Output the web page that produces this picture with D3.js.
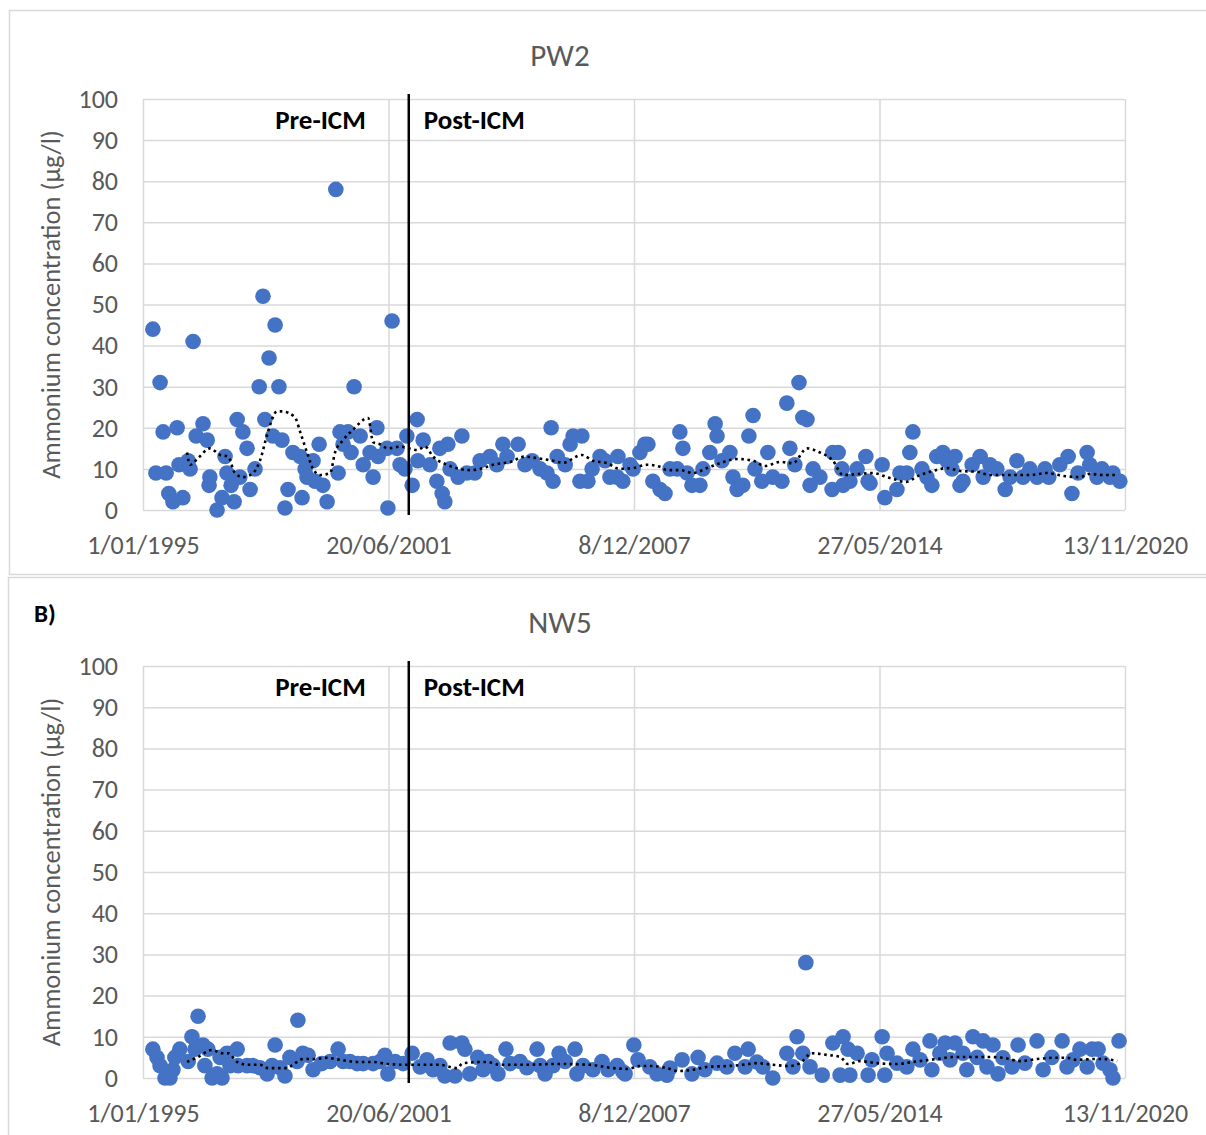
<!DOCTYPE html>
<html>
<head>
<meta charset="utf-8">
<script src="https://cdn.jsdelivr.net/npm/d3@7"></script>
<style>
  body { margin: 0; background: #fff; }
  svg { display: block; font-family: Calibri, Carlito, Lato, "Open Sans", sans-serif; }
</style>
</head>
<body>
<svg id="chart" width="1206" height="1135"></svg>
<script>
// x axis ticks (Excel date axis)
var xTickDates = ["1995-01-01", "2001-06-20", "2007-12-08", "2014-05-27", "2020-11-13"];
var xTickLabels = ["1/01/1995", "20/06/2001", "8/12/2007", "27/05/2014", "13/11/2020"];
var yTicks = [0, 10, 20, 30, 40, 50, 60, 70, 80, 90, 100];
var icmDate = "2002-01-01";

// PW2 samples: time in decimal years, ammonium in µg/l
var pw2Years = [1995.26, 1995.34, 1995.45, 1995.53, 1995.61, 1995.68, 1995.79, 1995.90, 1995.95, 1996.05,
  1996.19, 1996.24, 1996.32, 1996.40, 1996.58, 1996.69, 1996.74, 1996.76, 1996.95, 1997.08,
  1997.16, 1997.21, 1997.32, 1997.40, 1997.48, 1997.55, 1997.63, 1997.74, 1997.82, 1997.95,
  1998.06, 1998.16, 1998.21, 1998.32, 1998.42, 1998.48, 1998.58, 1998.66, 1998.74, 1998.82,
  1998.95, 1999.14, 1999.19, 1999.27, 1999.32, 1999.48, 1999.53, 1999.64, 1999.74, 1999.85,
  2000.08, 2000.14, 2000.19, 2000.27, 2000.40, 2000.48, 2000.56, 2000.72, 2000.80, 2000.98,
  2001.06, 2001.16, 2001.19, 2001.43, 2001.45, 2001.56, 2001.69, 2001.77, 2001.90, 2001.95,
  2002.09, 2002.22, 2002.24, 2002.38, 2002.56, 2002.74, 2002.82, 2002.88, 2002.95, 2003.03,
  2003.09, 2003.30, 2003.40, 2003.53, 2003.74, 2003.88, 2004.14, 2004.32, 2004.48, 2004.59,
  2004.88, 2005.06, 2005.25, 2005.46, 2005.64, 2005.75, 2005.80, 2005.91, 2006.12, 2006.25,
  2006.33, 2006.51, 2006.56, 2006.72, 2006.83, 2007.04, 2007.17, 2007.30, 2007.49, 2007.51,
  2007.64, 2007.83, 2007.91, 2008.09, 2008.22, 2008.30, 2008.43, 2008.62, 2008.75, 2008.88,
  2009.07, 2009.14, 2009.22, 2009.33, 2009.46, 2009.67, 2009.75, 2009.93, 2010.07, 2010.12,
  2010.25, 2010.46, 2010.54, 2010.65, 2010.80, 2010.96, 2011.07, 2011.12, 2011.30, 2011.46,
  2011.59, 2011.83, 2011.96, 2012.04, 2012.17, 2012.28, 2012.38, 2012.49, 2012.57, 2012.65,
  2012.83, 2013.15, 2013.17, 2013.31, 2013.41, 2013.44, 2013.62, 2013.81, 2014.04, 2014.10,
  2014.15, 2014.47, 2014.54, 2014.86, 2014.94, 2015.12, 2015.20, 2015.28, 2015.52, 2015.65,
  2015.78, 2015.91, 2016.07, 2016.18, 2016.31, 2016.39, 2016.52, 2016.60, 2016.84, 2017.05,
  2017.13, 2017.31, 2017.49, 2017.71, 2017.84, 2018.02, 2018.18, 2018.36, 2018.55, 2018.76,
  2018.86, 2019.15, 2019.37, 2019.47, 2019.63, 2019.87, 2019.94, 2020.13, 2020.26, 2020.47,
  2020.55, 2020.73];
var pw2Values = [44, 9, 31, 19, 9, 4, 2, 20, 11, 3,
  12, 10, 41, 18, 21, 17, 6, 8, 0, 3,
  13, 9, 6, 2, 22, 8, 19, 15, 5, 10,
  30, 52, 22, 37, 18, 45, 30, 17, 0.5, 5,
  14, 13, 3, 10, 8, 12, 7, 16, 6, 2,
  78, 9, 19, 16, 19, 14, 30, 18, 11, 14,
  8, 20, 13, 15, 0.5, 46, 15, 11, 10, 18,
  6, 22, 12, 17, 11, 7, 15, 4, 2, 16,
  10, 8, 18, 9, 9, 12, 13, 11, 16, 13,
  16, 11, 12, 10, 9, 20, 7, 13, 11, 16,
  18, 7, 18, 7, 10, 13, 12, 8, 8, 13,
  7, 11, 10, 14, 16, 16, 7, 5, 4, 10,
  10, 19, 15, 9, 6, 6, 10, 14, 21, 18,
  12, 14, 8, 5, 6, 18, 23, 10, 7, 14,
  8, 7, 26, 15, 11, 31, 22.5, 22, 6, 10,
  8, 5, 14, 14, 10, 6, 7, 10, 13, 7,
  6.5, 11, 3, 5, 9, 9, 14, 19, 10, 8,
  6, 13, 14, 12, 10, 13, 6, 7, 11, 13,
  8, 11, 10, 5, 8, 12, 8, 10, 8, 10,
  8, 11, 13, 4, 9, 14, 11, 8, 10, 8,
  9, 7];
// PW2 moving-average trendline as drawn
var pw2TrendYears = [1996.16, 1996.24, 1996.45, 1996.76, 1997.03, 1997.24, 1997.42, 1997.63, 1997.90, 1998.08,
  1998.29, 1998.53, 1998.66, 1999.00, 1999.14, 1999.32, 1999.48, 1999.66, 1999.93, 2000.06,
  2000.27, 2000.53, 2000.93, 2001.06, 2001.24, 2001.45, 2001.77, 2002.22, 2002.43, 2002.64,
  2003.01, 2003.61, 2003.88, 2004.22, 2004.67, 2005.06, 2005.38, 2005.80, 2006.06, 2006.56,
  2006.85, 2007.22, 2007.56, 2007.91, 2008.28, 2008.62, 2008.80, 2009.14, 2009.49, 2009.86,
  2010.20, 2010.65, 2011.07, 2011.38, 2011.78, 2012.12, 2012.49, 2012.83, 2013.17, 2013.44,
  2013.89, 2014.23, 2014.60, 2014.86, 2015.07, 2015.47, 2015.81, 2016.18, 2016.52, 2016.97,
  2017.31, 2017.92, 2018.36, 2018.81, 2019.23, 2019.68, 2019.94, 2020.29, 2020.66];
var pw2TrendValues = [14, 11, 12.6, 15, 13.4, 13, 9, 8, 9, 12,
  19, 24, 24, 22.6, 19, 14, 10, 8.5, 9, 14,
  17, 19.5, 22.4, 16.5, 16, 15, 15.4, 14.6, 15.4, 13,
  11, 9.7, 10, 11, 11.7, 13, 12.6, 12, 11.5, 13.4,
  12, 11.4, 10, 10.2, 11, 10.5, 9.7, 9.7, 9, 10.2,
  11.4, 12.4, 12, 10.7, 11.7, 11.4, 15, 14, 12, 8.5,
  8.8, 9, 8, 7.3, 6.8, 8.5, 9.5, 10.2, 9.5, 9.3,
  8.5, 8.5, 8.5, 9, 8.3, 8, 8.8, 8.5, 8.5];

// NW5 samples
var nw5Years = [1995.26, 1995.37, 1995.45, 1995.58, 1995.71, 1995.79, 1995.84, 1995.97, 1996.19, 1996.29,
  1996.37, 1996.45, 1996.58, 1996.63, 1996.71, 1996.82, 1996.95, 1997.03, 1997.08, 1997.21,
  1997.29, 1997.48, 1997.50, 1997.74, 1997.90, 1998.08, 1998.27, 1998.40, 1998.48, 1998.61,
  1998.74, 1998.87, 1999.06, 1999.08, 1999.21, 1999.35, 1999.48, 1999.71, 1999.93, 2000.14,
  2000.27, 2000.45, 2000.64, 2000.80, 2001.06, 2001.24, 2001.37, 2001.45, 2001.64, 2001.85,
  2002.09, 2002.30, 2002.48, 2002.64, 2002.82, 2002.95, 2003.09, 2003.22, 2003.40, 2003.48,
  2003.61, 2003.82, 2003.96, 2004.09, 2004.22, 2004.35, 2004.56, 2004.67, 2004.93, 2005.11,
  2005.38, 2005.46, 2005.59, 2005.80, 2005.96, 2006.12, 2006.38, 2006.43, 2006.59, 2006.85,
  2007.09, 2007.25, 2007.49, 2007.64, 2007.70, 2007.93, 2008.04, 2008.35, 2008.54, 2008.80,
  2008.88, 2009.20, 2009.46, 2009.62, 2009.80, 2010.12, 2010.38, 2010.59, 2010.86, 2010.94,
  2011.17, 2011.33, 2011.59, 2011.96, 2012.12, 2012.23, 2012.38, 2012.46, 2012.57, 2012.89,
  2013.17, 2013.36, 2013.44, 2013.57, 2013.62, 2013.81, 2014.10, 2014.20, 2014.47, 2014.54,
  2014.60, 2014.86, 2015.12, 2015.28, 2015.47, 2015.73, 2015.78, 2015.99, 2016.13, 2016.26,
  2016.39, 2016.60, 2016.70, 2016.86, 2016.97, 2017.13, 2017.23, 2017.39, 2017.52, 2017.65,
  2017.89, 2018.05, 2018.23, 2018.55, 2018.71, 2018.94, 2019.21, 2019.34, 2019.50, 2019.68,
  2019.87, 2020.00, 2020.16, 2020.29, 2020.47, 2020.55, 2020.71];
var nw5Values = [7, 5, 3, 0, 0, 2, 5, 7, 4, 10,
  7, 15, 8, 3, 7, 0, 1, 5, 0, 6,
  3, 7, 3, 3, 3, 2.5, 1, 3, 8, 2.5,
  0.5, 5, 4, 14, 6, 5.5, 2, 3.5, 4, 7,
  4, 4, 3.5, 3.5, 3.5, 4, 5.5, 1, 4, 3.5,
  6, 2.7, 4.4, 2, 3, 0.5, 8.5, 0.5, 8.5, 7,
  1, 5, 2, 4, 3, 1, 7, 3.5, 4, 2.5,
  7, 3, 1, 3, 6, 4, 7, 1, 3, 2,
  4, 2, 3, 1.5, 1, 8, 4.4, 2.7, 1, 0.7,
  2.4, 4.4, 1, 5, 2, 3.6, 2.7, 6, 2.7, 7,
  3.9, 2.7, 0, 6, 2.7, 10, 6, 28, 2.7, 0.7,
  8.5, 0.7, 10, 7, 0.7, 6, 0.7, 4.4, 10, 0.7,
  6, 3.6, 2.7, 7, 4.4, 9, 2, 6, 8.5, 4.4,
  8.5, 6, 2, 10, 5, 9, 2.7, 8, 1, 4.9,
  2.7, 8, 3.6, 9, 2, 5, 9, 2.7, 4.4, 7,
  2.7, 7, 7, 3.6, 2, 0, 9];
var nw5TrendYears = [1996.16, 1996.45, 1996.82, 1997.08, 1997.24, 1997.48, 1997.77, 1998.08, 1998.29, 1998.61,
  1998.79, 1998.95, 1999.21, 1999.48, 1999.85, 2000.19, 2000.64, 2001.06, 2001.43, 2001.95,
  2002.30, 2002.82, 2003.27, 2003.43, 2004.06, 2004.40, 2005.01, 2005.91, 2006.77, 2007.38,
  2007.75, 2008.09, 2008.43, 2008.80, 2009.09, 2009.49, 2009.86, 2010.38, 2010.80, 2011.17,
  2011.59, 2012.04, 2012.31, 2012.62, 2013.02, 2013.36, 2013.57, 2013.89, 2014.33, 2014.86,
  2015.28, 2015.91, 2016.34, 2016.78, 2017.23, 2017.65, 2018.10, 2018.55, 2018.97, 2019.34,
  2019.60, 2020.02, 2020.29, 2020.66];
var nw5TrendValues = [3.9, 5.1, 6.8, 6, 6, 3.9, 3.2, 3.2, 2.4, 2.4,
  2.4, 3.2, 4.6, 4.6, 4.9, 4.4, 3.9, 3.9, 3.4, 3.2,
  3.2, 3.2, 2.4, 3.6, 3.9, 3.2, 3.2, 3.4, 3.2, 2.4,
  2.2, 2.9, 2.9, 2.4, 1.7, 2, 2.7, 2.9, 3.2, 3.6,
  3.2, 2.9, 3.6, 6, 5.6, 5.1, 3.4, 4.1, 3.6, 3.4,
  3.9, 4.6, 5.1, 5.1, 5.1, 4.9, 4.1, 4.6, 4.9, 4.9,
  4.4, 4.6, 4.6, 4.1];

var gridColor = "#d9d9d9";
var textColor = "#595959";
var dotColor = "#4472c4";
var font = "Calibri, Carlito, Lato, 'Open Sans', sans-serif";

function yearToDate(t) {
  var y = Math.floor(t);
  var a = Date.UTC(y, 0, 1), b = Date.UTC(y + 1, 0, 1);
  return new Date(a + (t - y) * (b - a));
}

var svg = d3.select("#chart");

// outer chart frames
svg.append("rect").attr("x", 9.5).attr("y", 10.5).attr("width", 1205).attr("height", 564)
  .attr("fill", "#fff").attr("stroke", gridColor).attr("stroke-width", 1.5);
svg.append("rect").attr("x", 8.5).attr("y", 577.5).attr("width", 1205).attr("height", 600)
  .attr("fill", "#fff").attr("stroke", gridColor).attr("stroke-width", 1.5);

svg.append("text").attr("x", 34).attr("y", 622).attr("font-size", 25).attr("font-weight", "bold")
  .attr("fill", "#000").text("B)");

function drawPanel(opt) {
  var x = d3.scaleUtc()
    .domain([new Date(xTickDates[0]), new Date(xTickDates[xTickDates.length - 1])])
    .range([143, 1125]);
  var y = d3.scaleLinear().domain([0, 100]).range([opt.bottom, opt.top]);
  var g = svg.append("g");

  // horizontal gridlines + y labels
  var yAxis = d3.axisLeft(y).tickValues(yTicks).tickSize(-(1125 - 143)).tickPadding(25);
  var gy = g.append("g").attr("transform", "translate(143,0)").call(yAxis);
  gy.select(".domain").remove();
  gy.selectAll(".tick line").attr("stroke", gridColor).attr("stroke-width", 1.5);
  gy.selectAll(".tick text").attr("fill", textColor).attr("font-size", 26).attr("font-family", font);

  // vertical gridlines + date labels
  var xAxis = d3.axisBottom(x).tickValues(xTickDates.map(function (d) { return new Date(d); }))
    .tickFormat(function (d, i) { return xTickLabels[i]; })
    .tickSize(-(opt.bottom - opt.top)).tickPadding(26);
  var gx = g.append("g").attr("transform", "translate(0," + opt.bottom + ")").call(xAxis);
  gx.select(".domain").remove();
  gx.selectAll(".tick line").attr("stroke", gridColor).attr("stroke-width", 1.5);
  gx.selectAll(".tick text").attr("fill", textColor).attr("font-size", 26).attr("font-family", font);

  // title
  g.append("text").attr("x", 560).attr("y", opt.top - 33).attr("text-anchor", "middle")
    .attr("font-size", 31).attr("fill", textColor).text(opt.title);

  // y axis title
  g.append("text")
    .attr("transform", "translate(60," + ((opt.top + opt.bottom) / 2) + ") rotate(-90)")
    .attr("text-anchor", "middle").attr("font-size", 26.5).attr("fill", textColor)
    .text("Ammonium concentration (µg/l)");

  // points
  g.append("g").selectAll("circle")
    .data(opt.years.map(function (t, i) { return { date: yearToDate(t), value: opt.values[i] }; }))
    .join("circle")
    .attr("cx", function (d) { return x(d.date); })
    .attr("cy", function (d) { return y(d.value); })
    .attr("r", 7.8)
    .attr("fill", dotColor);

  // moving average trendline
  var line = d3.line()
    .x(function (d) { return x(d.date); })
    .y(function (d) { return y(d.value); })
    .curve(d3.curveMonotoneX);
  g.append("path")
    .datum(opt.trendYears.map(function (t, i) { return { date: yearToDate(t), value: opt.trendValues[i] }; }))
    .attr("d", line)
    .attr("fill", "none")
    .attr("stroke", "#000")
    .attr("stroke-width", 2.6)
    .attr("stroke-dasharray", "2.6,3.6");

  // ICM boundary line
  var xi = x(new Date(icmDate));
  g.append("line").attr("x1", xi).attr("x2", xi)
    .attr("y1", opt.top - 5).attr("y2", opt.bottom + 5)
    .attr("stroke", "#000").attr("stroke-width", 2.5);

  g.append("text").attr("x", xi - 43).attr("y", opt.top + 30).attr("text-anchor", "end")
    .attr("font-size", 27).attr("font-weight", "bold").attr("fill", "#000").text("Pre-ICM");
  g.append("text").attr("x", xi + 15).attr("y", opt.top + 30)
    .attr("font-size", 27).attr("font-weight", "bold").attr("fill", "#000").text("Post-ICM");
}

drawPanel({ title: "PW2", top: 99, bottom: 510, years: pw2Years, values: pw2Values,
  trendYears: pw2TrendYears, trendValues: pw2TrendValues });
drawPanel({ title: "NW5", top: 666, bottom: 1078, years: nw5Years, values: nw5Values,
  trendYears: nw5TrendYears, trendValues: nw5TrendValues });
</script>
</body>
</html>
